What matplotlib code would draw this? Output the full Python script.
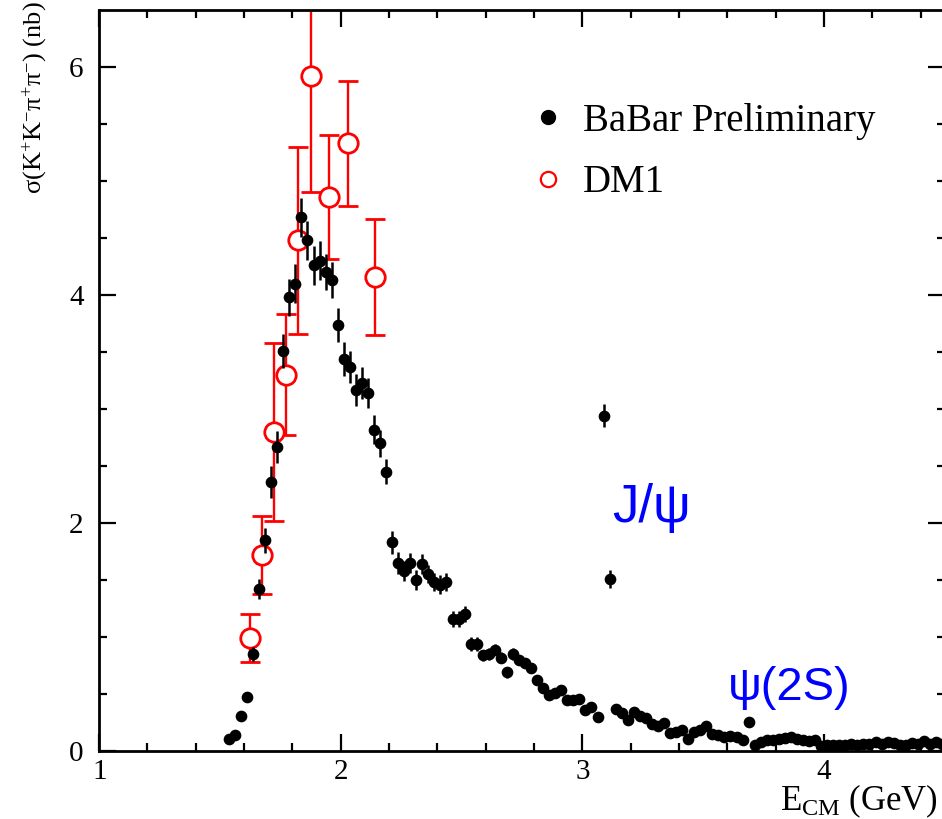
import numpy as np
import matplotlib
matplotlib.use('Agg')
import matplotlib.pyplot as plt
from matplotlib.lines import Line2D

plt.rcParams['font.family'] = ['Liberation Serif', 'DejaVu Serif']
plt.rcParams['mathtext.fontset'] = 'custom'
plt.rcParams['mathtext.rm'] = 'Liberation Serif'
plt.rcParams['mathtext.it'] = 'Liberation Serif:italic'

# BaBar preliminary, 25 MeV bins
babar_e = [1.5375, 1.5625, 1.5875, 1.6125, 1.6375, 1.6625, 1.6875, 1.7125, 1.7375, 1.7625,
           1.7875, 1.8125, 1.8375, 1.8625, 1.8875, 1.9125, 1.9375, 1.9625, 1.9875, 2.0125,
           2.0375, 2.0625, 2.0875, 2.1125, 2.1375, 2.1625, 2.1875, 2.2125, 2.2375, 2.2625,
           2.2875, 2.3125, 2.3375, 2.3625, 2.3875, 2.4125, 2.4375, 2.4625, 2.4875, 2.5125,
           2.5375, 2.5625, 2.5875, 2.6125, 2.6375, 2.6625, 2.6875, 2.7125, 2.7375, 2.7625,
           2.7875, 2.8125, 2.8375, 2.8625, 2.8875, 2.9125, 2.9375, 2.9625, 2.9875, 3.0125,
           3.0375, 3.0625, 3.0875, 3.1125, 3.1375, 3.1625, 3.1875, 3.2125, 3.2375, 3.2625,
           3.2875, 3.3125, 3.3375, 3.3625, 3.3875, 3.4125, 3.4375, 3.4625, 3.4875, 3.5125,
           3.5375, 3.5625, 3.5875, 3.6125, 3.6375, 3.6625, 3.6875, 3.7125, 3.7375, 3.7625,
           3.7875, 3.8125, 3.8375, 3.8625, 3.8875, 3.9125, 3.9375, 3.9625, 3.9875, 4.0125,
           4.0375, 4.0625, 4.0875, 4.1125, 4.1375, 4.1625, 4.1875, 4.2125, 4.2375, 4.2625,
           4.2875, 4.3125, 4.3375, 4.3625, 4.3875, 4.4125, 4.4375, 4.4625, 4.4875]
babar_xs = [0.105, 0.14, 0.31, 0.47, 0.85, 1.42, 1.85, 2.36, 2.67, 3.51,
            3.98, 4.10, 4.68, 4.48, 4.26, 4.30, 4.20, 4.13, 3.74, 3.44,
            3.37, 3.17, 3.23, 3.14, 2.82, 2.70, 2.45, 1.83, 1.65, 1.58,
            1.65, 1.50, 1.64, 1.55, 1.48, 1.46, 1.48, 1.16, 1.16, 1.20,
            0.94, 0.94, 0.84, 0.85, 0.89, 0.82, 0.69, 0.85, 0.80, 0.77,
            0.73, 0.62, 0.55, 0.49, 0.51, 0.535, 0.45, 0.45, 0.46, 0.36,
            0.39, 0.30, 2.94, 1.51, 0.365, 0.335, 0.275, 0.34, 0.31, 0.29,
            0.24, 0.215, 0.245, 0.155, 0.165, 0.185, 0.105, 0.165, 0.18, 0.22,
            0.145, 0.14, 0.12, 0.13, 0.12, 0.10, 0.255, 0.055, 0.078, 0.098,
            0.10, 0.105, 0.11, 0.12, 0.105, 0.095, 0.088, 0.095, 0.045, 0.05,
            0.05, 0.055, 0.05, 0.06, 0.055, 0.06, 0.065, 0.075, 0.06, 0.08,
            0.07, 0.05, 0.055, 0.07, 0.065, 0.09, 0.06, 0.075, 0.06]
babar_err = [0.02, 0.02, 0.03, 0.04, 0.06, 0.09, 0.11, 0.14, 0.14, 0.15,
             0.16, 0.17, 0.17, 0.17, 0.17, 0.17, 0.16, 0.16, 0.15, 0.15,
             0.14, 0.14, 0.14, 0.13, 0.13, 0.12, 0.11, 0.10, 0.10, 0.09,
             0.09, 0.09, 0.09, 0.08, 0.08, 0.08, 0.08, 0.07, 0.07, 0.07,
             0.06, 0.06, 0.05, 0.05, 0.05, 0.05, 0.05, 0.05, 0.04, 0.04,
             0.04, 0.04, 0.03, 0.03, 0.03, 0.03, 0.03, 0.03, 0.03, 0.03,
             0.03, 0.03, 0.10, 0.08, 0.025, 0.025, 0.025, 0.025, 0.025, 0.025,
             0.02, 0.02, 0.02, 0.02, 0.02, 0.02, 0.02, 0.02, 0.02, 0.02,
             0.02, 0.02, 0.02, 0.02, 0.02, 0.02, 0.03, 0.015, 0.015, 0.015,
             0.015, 0.015, 0.015, 0.015, 0.015, 0.015, 0.015, 0.015, 0.015, 0.015,
             0.015, 0.015, 0.015, 0.015, 0.015, 0.015, 0.015, 0.015, 0.015, 0.015,
             0.015, 0.015, 0.015, 0.015, 0.015, 0.015, 0.015, 0.015, 0.015]

# DM1
dm1_e = [1.625, 1.676, 1.724, 1.774, 1.822, 1.877, 1.950, 2.030, 2.142]
dm1_xs = [0.99, 1.72, 2.80, 3.30, 4.48, 5.92, 4.86, 5.33, 4.16]
dm1_err = [0.21, 0.34, 0.78, 0.53, 0.82, 1.02, 0.545, 0.55, 0.51]

x_ticks = [1, 2, 3, 4]
y_ticks = [0, 2, 4, 6]

fig = plt.figure(figsize=(9.42, 8.19), dpi=100)
ax = fig.add_axes([99/942, 68/819, 846/942, 741/819])

ax.errorbar(dm1_e, dm1_xs, yerr=dm1_err, fmt='o', color='red', mfc='white', mec='red',
            ms=14, mew=2, elinewidth=1.7, capsize=7, capthick=1.7, zorder=2)
ax.errorbar(babar_e, babar_xs, yerr=babar_err, fmt='o', color='black', ms=7.4,
            elinewidth=1.8, capsize=0, zorder=3)

ax.set_xlim(1, 4.5)
ax.set_ylim(0, 6.5)
ax.set_xticks(x_ticks)
ax.set_xticklabels([r'$\mathrm{%d}$' % t for t in x_ticks])
ax.set_yticks(y_ticks)
ax.set_xticks(np.arange(1, 4.5, 0.2), minor=True)
ax.set_yticks(np.arange(0, 6.5, 0.5), minor=True)
ax.tick_params(which='both', direction='in', top=True, right=True, width=1.6, labelsize=21)
ax.tick_params(which='major', length=12)
ax.tick_params(which='minor', length=6)
ax.tick_params(axis='x', pad=6)
ax.tick_params(axis='y', pad=11)
for s in ax.spines.values():
    s.set_linewidth(2)

ax.set_ylabel(r'$\mathrm{\sigma(K^{+}K^{-}\pi^{+}\pi^{-})}$ (nb)', fontsize=19,
              ha='right', va='center', rotation_mode='anchor')
ax.yaxis.set_label_coords(-0.076, 1.012)
ax.set_xlabel(r'$\mathrm{E_{CM}\ (GeV)}$', fontsize=25, ha='right', va='center')
ax.xaxis.set_label_coords(0.992, -0.068)

ax.text(3.122, 2.01, 'J/ψ', color='blue', fontsize=38, family=['Liberation Sans', 'DejaVu Sans'])
ax.text(3.602, 0.447, 'ψ(2S)', color='blue', fontsize=34, family=['Liberation Sans', 'DejaVu Sans'])

handles = [Line2D([], [], ls='none', marker='o', color='black', ms=10),
           Line2D([], [], ls='none', marker='o', mfc='white', mec='red', mew=1.6, ms=11)]
ax.legend(handles, ['BaBar Preliminary', 'DM1'], loc='upper left', bbox_to_anchor=(0.5124, 0.875),
          frameon=False, fontsize=28, handlelength=0.8, handletextpad=0.5, labelspacing=0.63,
          borderpad=0, borderaxespad=0)

fig.savefig('out.png', dpi=100)
